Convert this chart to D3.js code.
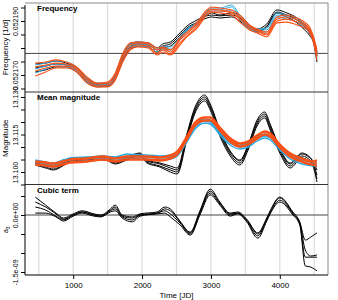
<!DOCTYPE html>
<html>
<head>
<meta charset="utf-8">
<script src="https://cdn.jsdelivr.net/npm/d3@7"></script>
<style>
body { margin: 0; background: #fff; }
svg { display: block; font-family: "Liberation Sans", Arial, sans-serif; }
</style>
</head>
<body>
<svg width="338" height="300"></svg>
<script>
// ---- Frequency panel ----
const timeFreq = [450, 600, 750, 900, 1050, 1200, 1350, 1500, 1610, 1720, 1830, 1930, 2090, 2220, 2300, 2410, 2550, 2650, 2800, 2940, 3010, 3130, 3300, 3420, 3560, 3670, 3810, 3960, 4100, 4250, 4360, 4440, 4490, 4540]
const freqRef = 0.052178

const freqBlack1 = [0.0521741, 0.0521744, 0.0521752, 0.0521744, 0.0521726, 0.0521689, 0.0521667, 0.0521670, 0.0521700, 0.0521774, 0.0521815, 0.0521822, 0.0521819, 0.0521800, 0.0521815, 0.0521822, 0.0521856, 0.0521881, 0.0521904, 0.0521922, 0.0521930, 0.0521922, 0.0521930, 0.0521922, 0.0521885, 0.0521870, 0.0521889, 0.0521941, 0.0521930, 0.0521911, 0.0521885, 0.0521859, 0.0521837, 0.0521785]
const freqBlack2 = [0.0521726, 0.0521733, 0.0521741, 0.0521737, 0.0521719, 0.0521681, 0.0521663, 0.0521663, 0.0521693, 0.0521763, 0.0521804, 0.0521815, 0.0521811, 0.0521793, 0.0521807, 0.0521815, 0.0521848, 0.0521874, 0.0521896, 0.0521919, 0.0521922, 0.0521919, 0.0521922, 0.0521911, 0.0521878, 0.0521863, 0.0521881, 0.0521933, 0.0521922, 0.0521904, 0.0521878, 0.0521852, 0.0521830, 0.0521770]
const freqBlack3 = [0.0521711, 0.0521719, 0.0521730, 0.0521730, 0.0521711, 0.0521674, 0.0521656, 0.0521659, 0.0521685, 0.0521752, 0.0521796, 0.0521807, 0.0521804, 0.0521785, 0.0521800, 0.0521807, 0.0521841, 0.0521867, 0.0521893, 0.0521911, 0.0521915, 0.0521911, 0.0521915, 0.0521900, 0.0521870, 0.0521859, 0.0521878, 0.0521930, 0.0521915, 0.0521893, 0.0521867, 0.0521844, 0.0521819, 0.0521748]

const freqBlue1 = [0.0521737, 0.0521744, 0.0521752, 0.0521748, 0.0521730, 0.0521689, 0.0521670, 0.0521670, 0.0521704, 0.0521778, 0.0521815, 0.0521822, 0.0521819, 0.0521800, 0.0521807, 0.0521804, 0.0521841, 0.0521870, 0.0521896, 0.0521937, 0.0521948, 0.0521948, 0.0521959, 0.0521922, 0.0521885, 0.0521870, 0.0521874, 0.0521930, 0.0521922, 0.0521911, 0.0521889, 0.0521867, 0.0521837, 0.0521785]
const freqBlue2 = [0.0521722, 0.0521733, 0.0521741, 0.0521737, 0.0521722, 0.0521681, 0.0521663, 0.0521667, 0.0521696, 0.0521767, 0.0521807, 0.0521815, 0.0521811, 0.0521793, 0.0521800, 0.0521796, 0.0521833, 0.0521867, 0.0521893, 0.0521933, 0.0521941, 0.0521941, 0.0521952, 0.0521915, 0.0521878, 0.0521867, 0.0521867, 0.0521922, 0.0521915, 0.0521904, 0.0521881, 0.0521859, 0.0521830, 0.0521774]
const freqBlue3 = [0.0521707, 0.0521722, 0.0521733, 0.0521730, 0.0521715, 0.0521674, 0.0521659, 0.0521659, 0.0521689, 0.0521756, 0.0521800, 0.0521807, 0.0521804, 0.0521785, 0.0521793, 0.0521793, 0.0521830, 0.0521863, 0.0521885, 0.0521926, 0.0521933, 0.0521933, 0.0521941, 0.0521904, 0.0521870, 0.0521859, 0.0521859, 0.0521915, 0.0521907, 0.0521896, 0.0521874, 0.0521856, 0.0521822, 0.0521763]

const freqOrange1 = [0.0521744, 0.0521748, 0.0521756, 0.0521748, 0.0521730, 0.0521693, 0.0521670, 0.0521674, 0.0521707, 0.0521781, 0.0521819, 0.0521822, 0.0521819, 0.0521800, 0.0521804, 0.0521793, 0.0521837, 0.0521859, 0.0521896, 0.0521941, 0.0521952, 0.0521948, 0.0521941, 0.0521922, 0.0521885, 0.0521870, 0.0521859, 0.0521915, 0.0521922, 0.0521911, 0.0521896, 0.0521874, 0.0521841, 0.0521793]
const freqOrange2 = [0.0521730, 0.0521737, 0.0521744, 0.0521741, 0.0521726, 0.0521685, 0.0521667, 0.0521670, 0.0521700, 0.0521770, 0.0521811, 0.0521819, 0.0521815, 0.0521793, 0.0521800, 0.0521785, 0.0521830, 0.0521852, 0.0521889, 0.0521933, 0.0521944, 0.0521941, 0.0521933, 0.0521915, 0.0521881, 0.0521867, 0.0521852, 0.0521907, 0.0521915, 0.0521904, 0.0521889, 0.0521867, 0.0521833, 0.0521781]
const freqOrange3 = [0.0521715, 0.0521726, 0.0521733, 0.0521733, 0.0521719, 0.0521678, 0.0521659, 0.0521663, 0.0521689, 0.0521759, 0.0521800, 0.0521811, 0.0521807, 0.0521781, 0.0521793, 0.0521778, 0.0521819, 0.0521844, 0.0521881, 0.0521930, 0.0521937, 0.0521937, 0.0521930, 0.0521907, 0.0521874, 0.0521863, 0.0521848, 0.0521900, 0.0521907, 0.0521896, 0.0521881, 0.0521863, 0.0521826, 0.0521770]
const freqOrange4 = [0.0521696, 0.0521711, 0.0521726, 0.0521726, 0.0521711, 0.0521670, 0.0521656, 0.0521656, 0.0521681, 0.0521748, 0.0521793, 0.0521804, 0.0521800, 0.0521774, 0.0521785, 0.0521774, 0.0521811, 0.0521841, 0.0521874, 0.0521922, 0.0521933, 0.0521930, 0.0521922, 0.0521896, 0.0521867, 0.0521856, 0.0521841, 0.0521893, 0.0521896, 0.0521885, 0.0521874, 0.0521856, 0.0521819, 0.0521756]

// ---- Mean magnitude panel ----
const timeMag = [450, 600, 710, 850, 960, 1200, 1435, 1610, 1780, 1970, 2070, 2260, 2410, 2510, 2650, 2770, 2910, 2990, 3130, 3280, 3420, 3540, 3670, 3780, 3860, 4000, 4150, 4320, 4400, 4480, 4540]

const magBlack1 = [13.1040, 13.1032, 13.1024, 13.1036, 13.1056, 13.1056, 13.1064, 13.1044, 13.1060, 13.1076, 13.1048, 13.1036, 13.1024, 13.1016, 13.1152, 13.1260, 13.1308, 13.1272, 13.1168, 13.1084, 13.1048, 13.1108, 13.1208, 13.1240, 13.1192, 13.1096, 13.1036, 13.1076, 13.1068, 13.1044, 13.1008]
const magBlack2 = [13.1036, 13.1028, 13.1020, 13.1032, 13.1052, 13.1056, 13.1060, 13.1040, 13.1056, 13.1072, 13.1044, 13.1032, 13.1016, 13.1008, 13.1144, 13.1252, 13.1300, 13.1264, 13.1160, 13.1080, 13.1044, 13.1104, 13.1200, 13.1232, 13.1184, 13.1092, 13.1032, 13.1072, 13.1064, 13.1040, 13.0988]
const magBlack3 = [13.1032, 13.1020, 13.1012, 13.1028, 13.1048, 13.1052, 13.1056, 13.1036, 13.1052, 13.1068, 13.1040, 13.1024, 13.1008, 13.1000, 13.1136, 13.1244, 13.1292, 13.1256, 13.1152, 13.1072, 13.1036, 13.1096, 13.1192, 13.1224, 13.1176, 13.1084, 13.1024, 13.1064, 13.1056, 13.1032, 13.0972]
const magBlack4 = [13.1028, 13.1016, 13.1008, 13.1024, 13.1044, 13.1048, 13.1052, 13.1032, 13.1048, 13.1064, 13.1036, 13.1020, 13.1000, 13.0992, 13.1128, 13.1236, 13.1284, 13.1248, 13.1144, 13.1064, 13.1028, 13.1088, 13.1184, 13.1216, 13.1168, 13.1076, 13.1016, 13.1056, 13.1048, 13.1024, 13.0960]

const magBlue1 = [13.1048, 13.1040, 13.1036, 13.1048, 13.1056, 13.1060, 13.1064, 13.1060, 13.1072, 13.1068, 13.1068, 13.1064, 13.1068, 13.1080, 13.1136, 13.1188, 13.1212, 13.1208, 13.1164, 13.1124, 13.1108, 13.1116, 13.1140, 13.1152, 13.1144, 13.1104, 13.1068, 13.1048, 13.1044, 13.1040, 13.1040]
const magBlue2 = [13.1040, 13.1032, 13.1028, 13.1040, 13.1048, 13.1052, 13.1056, 13.1052, 13.1064, 13.1060, 13.1060, 13.1056, 13.1060, 13.1072, 13.1128, 13.1180, 13.1204, 13.1200, 13.1156, 13.1116, 13.1100, 13.1108, 13.1132, 13.1144, 13.1136, 13.1096, 13.1060, 13.1040, 13.1036, 13.1032, 13.1032]
const magBlue3 = [13.1032, 13.1024, 13.1020, 13.1032, 13.1040, 13.1044, 13.1048, 13.1044, 13.1056, 13.1052, 13.1052, 13.1048, 13.1052, 13.1064, 13.1120, 13.1172, 13.1196, 13.1192, 13.1148, 13.1108, 13.1092, 13.1100, 13.1124, 13.1136, 13.1128, 13.1088, 13.1052, 13.1032, 13.1028, 13.1024, 13.1024]

const magOrange1 = [13.1044, 13.1040, 13.1036, 13.1044, 13.1052, 13.1056, 13.1064, 13.1056, 13.1064, 13.1064, 13.1064, 13.1060, 13.1068, 13.1084, 13.1144, 13.1200, 13.1220, 13.1220, 13.1180, 13.1136, 13.1116, 13.1124, 13.1148, 13.1164, 13.1156, 13.1112, 13.1076, 13.1056, 13.1048, 13.1044, 13.1048]
const magOrange2 = [13.1040, 13.1036, 13.1032, 13.1040, 13.1048, 13.1052, 13.1060, 13.1052, 13.1060, 13.1060, 13.1060, 13.1056, 13.1064, 13.1080, 13.1140, 13.1196, 13.1216, 13.1216, 13.1176, 13.1132, 13.1112, 13.1120, 13.1144, 13.1160, 13.1152, 13.1108, 13.1072, 13.1052, 13.1044, 13.1040, 13.1040]
const magOrange3 = [13.1032, 13.1028, 13.1024, 13.1032, 13.1040, 13.1044, 13.1052, 13.1044, 13.1052, 13.1052, 13.1052, 13.1048, 13.1056, 13.1072, 13.1132, 13.1188, 13.1208, 13.1208, 13.1168, 13.1124, 13.1104, 13.1112, 13.1136, 13.1152, 13.1144, 13.1100, 13.1064, 13.1044, 13.1036, 13.1032, 13.1032]
const magOrange4 = [13.1028, 13.1024, 13.1020, 13.1028, 13.1036, 13.1040, 13.1048, 13.1040, 13.1048, 13.1048, 13.1048, 13.1044, 13.1052, 13.1068, 13.1128, 13.1184, 13.1204, 13.1204, 13.1164, 13.1120, 13.1100, 13.1108, 13.1132, 13.1148, 13.1140, 13.1096, 13.1060, 13.1040, 13.1032, 13.1028, 13.1024]

// ---- Cubic term panel ----
const timeCubic = [450, 600, 750, 860, 1000, 1130, 1300, 1400, 1540, 1610, 1710, 1860, 1970, 2220, 2330, 2410, 2550, 2700, 2840, 2990, 3130, 3280, 3390, 3520, 3680, 3810, 3860, 4000, 4190, 4290, 4370, 4450, 4540]
const cubicRef = 0

const cubic1 = [4.7e-10, 2.6e-10, 0.5e-10, -0.8e-10, 0.3e-10, 1.1e-10, 0.3e-10, 0, 1.6e-10, 2.6e-10, 0, -0.5e-10, 0.3e-10, 0.8e-10, 2.1e-10, 1.6e-10, -1.6e-10, -4.5e-10, 1.1e-10, 6.8e-10, 3.4e-10, 0.5e-10, 0.8e-10, -1.1e-10, -4.7e-10, -0.8e-10, 1.1e-10, 4.7e-10, 0.8e-10, -1.8e-10, -6.6e-10, -5.8e-10, -4.7e-10]
const cubic2 = [3.4e-10, 2.1e-10, 0.3e-10, -1.1e-10, 0, 0.8e-10, 0, -0.3e-10, 1.3e-10, 2.1e-10, -0.3e-10, -0.8e-10, 0, 0.5e-10, 1.6e-10, 1.1e-10, -1.8e-10, -4.7e-10, 0.8e-10, 6.3e-10, 3.2e-10, 0.3e-10, 0.5e-10, -1.3e-10, -5.0e-10, -1.1e-10, 0.8e-10, 4.5e-10, 0.5e-10, -2.1e-10, -9.2e-10, -10.8e-10, -10.5e-10]
const cubic3 = [2.1e-10, 1.3e-10, -0.3e-10, -1.3e-10, 0, 0.8e-10, 0, -0.3e-10, 1.1e-10, 1.6e-10, -0.5e-10, -1.3e-10, 0, 0.5e-10, 1.1e-10, 0.3e-10, -2.1e-10, -5.0e-10, 0.5e-10, 5.8e-10, 2.9e-10, 0, 0.5e-10, -1.6e-10, -5.5e-10, -1.3e-10, 0.5e-10, 3.9e-10, 0.3e-10, -2.4e-10, -11.1e-10, -11.1e-10, -11.1e-10]
const cubic4 = [0.5e-10, 0.5e-10, -0.5e-10, -1.6e-10, -0.3e-10, 0.5e-10, -0.3e-10, -0.5e-10, 0.8e-10, 1.1e-10, -0.8e-10, -1.8e-10, -0.3e-10, 0.3e-10, 0.5e-10, -0.5e-10, -2.6e-10, -5.3e-10, 0, 5.3e-10, 2.6e-10, -0.3e-10, 0.3e-10, -1.8e-10, -6.1e-10, -1.6e-10, 0.3e-10, 3.4e-10, 0, -2.6e-10, -13.4e-10, -13.7e-10, -14.7e-10]

// ---- ticks ----
const xTicks = [1000, 2000, 3000, 4000]
const gridTimes = [500, 1000, 1500, 2000, 2500, 3000, 3500, 4000, 4500]
const freqTicks = [0.052165, 0.052170, 0.052175, 0.052180, 0.052185, 0.052190, 0.052195]
const freqLabels = [0.052170, 0.052190]
const magTicks = [13.095, 13.100, 13.105, 13.110, 13.115, 13.120, 13.125, 13.130]
const magLabels = [13.100, 13.115, 13.130]
const cubicTicks = [-1.5e-9, -1.0e-9, -0.5e-9, 0, 0.5e-9]
const cubicLabels = [-1.5e-9, 0]

const svg = d3.select('svg'),
    width = +svg.attr('width'),
    height = +svg.attr('height')

const left = 25, right = 328
const panels = [
    { top: 3, bottom: 92, title: 'Frequency' },
    { top: 92, bottom: 184.5, title: 'Mean magnitude' },
    { top: 184.5, bottom: 275, title: 'Cubic term' }
]

const colBlack = '#000000', colBlue = '#27a9e1', colOrange = '#fb4f14'

const x = d3.scaleLinear().domain([300, 4700]).range([left, right])
const yFreq = d3.scaleLinear().domain([0.052170, 0.052190]).range([75, 21])
const yMag = d3.scaleLinear().domain([13.100, 13.130]).range([172, 97])
const yCubic = d3.scaleLinear().domain([-1.5e-9, 0]).range([272, 215])

// clip paths
const defs = svg.append('defs')
panels.forEach((p, i) => {
    defs.append('clipPath').attr('id', 'clip' + i)
        .append('rect')
        .attr('x', left).attr('y', p.top)
        .attr('width', right - left).attr('height', p.bottom - p.top)
})

// vertical grid
svg.append('g')
    .selectAll('line')
    .data(gridTimes)
    .enter()
    .append('line')
    .attr('x1', d => x(d)).attr('x2', d => x(d))
    .attr('y1', panels[0].top).attr('y2', panels[2].bottom)
    .attr('stroke', '#dcdcdc')
    .attr('stroke-width', 1.2)

// reference lines
svg.append('line')
    .attr('x1', left).attr('x2', right)
    .attr('y1', yFreq(freqRef)).attr('y2', yFreq(freqRef))
    .attr('stroke', '#444').attr('stroke-width', 1)
svg.append('line')
    .attr('x1', left).attr('x2', right)
    .attr('y1', yCubic(cubicRef)).attr('y2', yCubic(cubicRef))
    .attr('stroke', '#444').attr('stroke-width', 1)

function drawLines(panelIndex, times, series, yScale, color, w) {
    const line = d3.line()
        .x((d, i) => x(times[i]))
        .y(d => yScale(d))
        .curve(d3.curveMonotoneX)
    svg.append('g')
        .attr('clip-path', 'url(#clip' + panelIndex + ')')
        .selectAll('path')
        .data(series)
        .enter()
        .append('path')
        .attr('d', line)
        .attr('fill', 'none')
        .attr('stroke', color)
        .attr('stroke-width', w)
}

drawLines(0, timeFreq, [freqBlack1, freqBlack2, freqBlack3], yFreq, colBlack, 1)
drawLines(0, timeFreq, [freqBlue1, freqBlue2, freqBlue3], yFreq, colBlue, 1)
drawLines(0, timeFreq, [freqOrange1, freqOrange2, freqOrange3, freqOrange4], yFreq, colOrange, 1.1)

drawLines(1, timeMag, [magBlack1, magBlack2, magBlack3, magBlack4], yMag, colBlack, 1)
drawLines(1, timeMag, [magBlue1, magBlue2, magBlue3], yMag, colBlue, 1.4)
drawLines(1, timeMag, [magOrange1, magOrange2, magOrange3, magOrange4], yMag, colOrange, 1.6)

drawLines(2, timeCubic, [cubic1, cubic2, cubic3, cubic4], yCubic, colBlack, 1)

// panel borders
svg.append('line').attr('x1', left).attr('x2', right).attr('y1', panels[0].top).attr('y2', panels[0].top)
    .attr('stroke', '#888').attr('stroke-width', 1)
svg.append('line').attr('x1', right).attr('x2', right).attr('y1', panels[0].top).attr('y2', panels[2].bottom)
    .attr('stroke', '#888').attr('stroke-width', 1)
;[panels[1].top, panels[2].top].forEach(yy => {
    svg.append('line').attr('x1', left).attr('x2', right).attr('y1', yy).attr('y2', yy)
        .attr('stroke', '#333').attr('stroke-width', 1)
})
svg.append('line').attr('x1', left).attr('x2', left).attr('y1', 5).attr('y2', panels[2].bottom)
    .attr('stroke', '#000').attr('stroke-width', 1)

// panel titles
panels.forEach(p => {
    svg.append('text')
        .attr('x', 37).attr('y', p.top + 8)
        .style('font-size', '8px')
        .style('font-weight', 'bold')
        .text(p.title)
})

// y axes
function sciLabel(v) {
    if (v === 0) return '0.0e+00'
    const parts = v.toExponential(1).split('e')
    const ex = +parts[1]
    return parts[0] + 'e' + (ex < 0 ? '-' : '+') + String(Math.abs(ex)).padStart(2, '0')
}

function yAxis(scale, ticks, labels, fmt) {
    const g = svg.append('g')
        .attr('transform', 'translate(' + left + ',0)')
        .call(d3.axisLeft(scale)
            .tickValues(ticks)
            .tickSize(4)
            .tickSizeOuter(0)
            .tickFormat(d => labels.some(l => Math.abs(l - d) < 1e-12) ? fmt(d) : ''))
    g.select('.domain').remove()
    g.selectAll('.tick line').attr('stroke', '#000')
    g.selectAll('.tick text')
        .attr('x', null).attr('dy', null)
        .attr('text-anchor', 'middle')
        .attr('transform', 'translate(-7,0) rotate(-90)')
        .attr('fill', '#000')
        .style('font-size', '7px')
        .style('font-family', '"Liberation Sans", Arial, sans-serif')
}

yAxis(yFreq, freqTicks, freqLabels, d3.format('.6f'))
yAxis(yMag, magTicks, magLabels, d3.format('.3f'))
yAxis(yCubic, cubicTicks, cubicLabels, sciLabel)

// y titles
const yTitles = [
    { text: 'Frequency [1/d]', y: (panels[0].top + panels[0].bottom) / 2 },
    { text: 'Magnitude', y: (panels[1].top + panels[1].bottom) / 2 }
]
yTitles.forEach(t => {
    svg.append('text')
        .attr('transform', 'translate(8,' + t.y + ') rotate(-90)')
        .attr('text-anchor', 'middle')
        .style('font-size', '8px')
        .text(t.text)
})
const a3 = svg.append('text')
    .attr('transform', 'translate(8,' + (panels[2].top + panels[2].bottom) / 2 + ') rotate(-90)')
    .attr('text-anchor', 'middle')
    .style('font-size', '7px')
a3.append('tspan').text('a')
a3.append('tspan').attr('dy', 2).style('font-size', '5px').text('3')

// x axis
const xg = svg.append('g')
    .attr('transform', 'translate(0,' + panels[2].bottom + ')')
    .call(d3.axisBottom(x).tickValues(xTicks).tickSize(4).tickSizeOuter(0).tickFormat(d3.format('d')))
xg.select('.domain').attr('d', 'M' + left + ',0H' + right).attr('stroke', '#000')
xg.selectAll('.tick text')
    .attr('y', 7)
    .style('font-size', '8px')
    .style('font-family', '"Liberation Sans", Arial, sans-serif')

svg.append('text')
    .attr('x', (left + right) / 2).attr('y', 298)
    .attr('text-anchor', 'middle')
    .style('font-size', '8px')
    .text('Time [JD]')
</script>
</body>
</html>
